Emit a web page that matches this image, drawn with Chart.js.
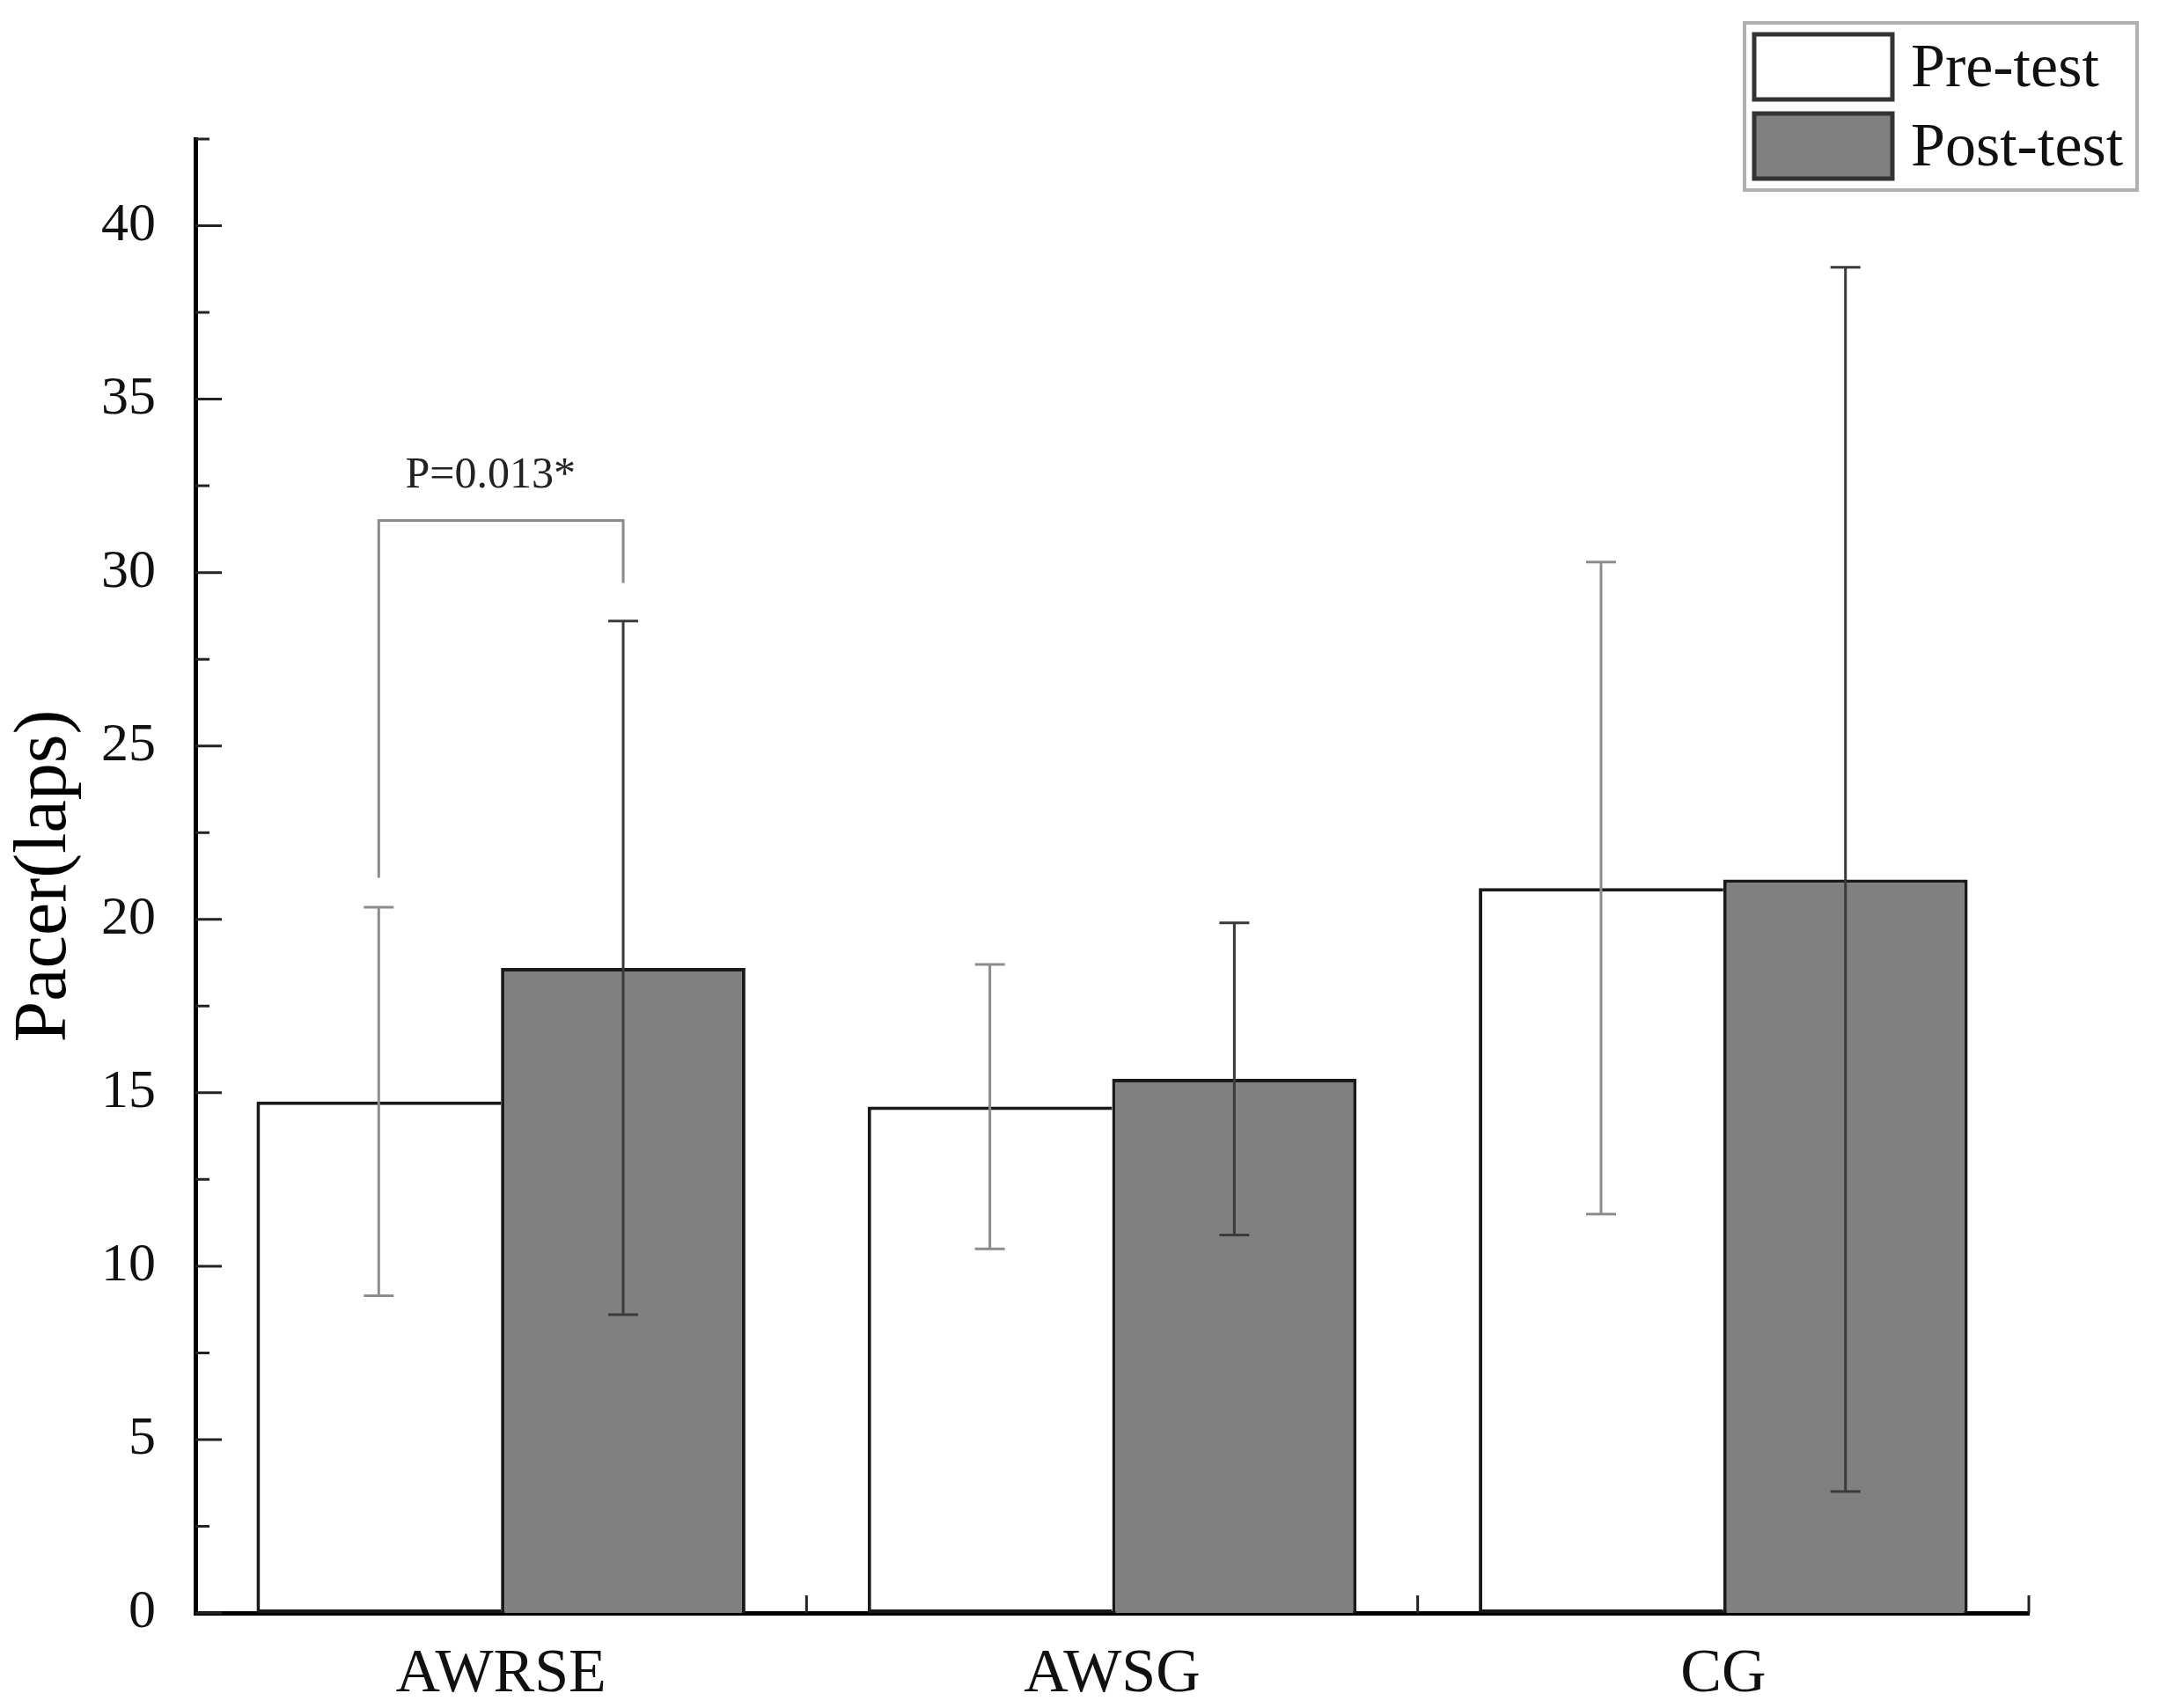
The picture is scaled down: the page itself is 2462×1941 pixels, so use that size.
<!DOCTYPE html>
<html>
<head>
<meta charset="utf-8">
<script src="https://cdn.jsdelivr.net/npm/chart.js@4.4.1/dist/chart.umd.min.js"></script>
<style>
  body { margin: 0; background: #fff; }
  canvas { display: block; }
</style>
</head>
<body>
<canvas id="pacerChart" width="2462" height="1941" style="width:2462px;height:1941px"></canvas>
<script>
// Chart data
const groups = ["AWRSE", "AWSG", "CG"];
const preMean = [14.75, 14.6, 20.9];
const preSd = [5.6, 4.1, 9.4];
const postMean = [18.6, 15.4, 21.15];
const postSd = [10.0, 4.5, 17.65];
const yTicks = [0, 5, 10, 15, 20, 25, 30, 35, 40];
const yMax = 42.5;

// significance bracket between AWRSE pre and post
const bracketTop = 31.5;
const bracketLeftEnd = 21.2;
const bracketRightEnd = 29.7;
const bracketText = "P=0.013*";

const serif = "'Liberation Serif', 'Times New Roman', serif";

// Inward tick marks on both axes
const inwardTicks = {
  id: "inwardTicks",
  afterDraw(chart) {
    const ctx = chart.ctx;
    const x = chart.scales.x;
    const y = chart.scales.y;
    const area = chart.chartArea;
    ctx.save();
    ctx.strokeStyle = "#222";
    ctx.lineWidth = 3;
    ctx.beginPath();
    yTicks.forEach(function (v) {
      const py = y.getPixelForValue(v);
      ctx.moveTo(area.left, py);
      ctx.lineTo(area.left + 30, py);
      const pm = y.getPixelForValue(v + 2.5);
      ctx.moveTo(area.left, pm);
      ctx.lineTo(area.left + 16, pm);
    });
    // category boundaries
    groups.forEach(function (g, i) {
      const px = (x.getPixelForValue(i) + x.getPixelForValue(i + 1)) / 2;
      ctx.moveTo(px, area.bottom);
      ctx.lineTo(px, area.bottom - 20);
    });
    ctx.stroke();
    ctx.restore();
  }
};

// Error bars with caps
const errorBars = {
  id: "errorBars",
  afterDatasetsDraw(chart) {
    const ctx = chart.ctx;
    const y = chart.scales.y;
    chart.data.datasets.forEach(function (ds, di) {
      const meta = chart.getDatasetMeta(di);
      meta.data.forEach(function (bar, i) {
        const top = y.getPixelForValue(ds.data[i] + ds.sd[i]);
        const bot = y.getPixelForValue(ds.data[i] - ds.sd[i]);
        ctx.save();
        ctx.strokeStyle = ds.errorColor;
        ctx.lineWidth = 3;
        ctx.beginPath();
        ctx.moveTo(bar.x, top);
        ctx.lineTo(bar.x, bot);
        ctx.moveTo(bar.x - 17, top);
        ctx.lineTo(bar.x + 17, top);
        ctx.moveTo(bar.x - 17, bot);
        ctx.lineTo(bar.x + 17, bot);
        ctx.stroke();
        ctx.restore();
      });
    });

    // significance bracket
    const left = chart.getDatasetMeta(0).data[0].x;
    const right = chart.getDatasetMeta(1).data[0].x;
    const pTop = y.getPixelForValue(bracketTop);
    ctx.save();
    ctx.strokeStyle = "#8a8a8a";
    ctx.lineWidth = 3;
    ctx.beginPath();
    ctx.moveTo(left, y.getPixelForValue(bracketLeftEnd));
    ctx.lineTo(left, pTop);
    ctx.lineTo(right, pTop);
    ctx.lineTo(right, y.getPixelForValue(bracketRightEnd));
    ctx.stroke();
    ctx.fillStyle = "#222";
    ctx.font = "50px " + serif;
    ctx.textAlign = "center";
    ctx.textBaseline = "alphabetic";
    ctx.fillText(bracketText, (left + right) / 2 - 12, pTop - 38);
    ctx.restore();
  }
};

// Boxed legend in the top right corner
const boxLegend = {
  id: "boxLegend",
  afterDraw(chart) {
    const ctx = chart.ctx;
    ctx.save();
    ctx.strokeStyle = "#b0b0b0";
    ctx.lineWidth = 4;
    ctx.strokeRect(1982, 26, 446, 190);
    chart.data.datasets.forEach(function (ds, i) {
      const top = 39 + i * 90;
      ctx.fillStyle = ds.backgroundColor;
      ctx.fillRect(1993, top, 157, 74);
      ctx.strokeStyle = "#333";
      ctx.lineWidth = 5;
      ctx.strokeRect(1993, top, 157, 74);
      ctx.fillStyle = "#111";
      ctx.font = "70px " + serif;
      ctx.textBaseline = "alphabetic";
      ctx.fillText(ds.label, 2171, top + 59);
    });
    ctx.restore();
  }
};

const ctx = document.getElementById("pacerChart").getContext("2d");

new Chart(ctx, {
  type: "bar",
  data: {
    labels: groups,
    datasets: [
      {
        label: "Pre-test",
        data: preMean,
        sd: preSd,
        errorColor: "#8c8c8c",
        backgroundColor: "#ffffff",
        borderColor: "#1a1a1a",
        borderWidth: 4,
        borderSkipped: "right",
        categoryPercentage: 0.8,
        barPercentage: 1.0
      },
      {
        label: "Post-test",
        data: postMean,
        sd: postSd,
        errorColor: "#3a3a3a",
        backgroundColor: "#808080",
        borderColor: "#1a1a1a",
        borderWidth: 4,
        categoryPercentage: 0.8,
        barPercentage: 1.0
      }
    ]
  },
  options: {
    responsive: false,
    devicePixelRatio: 1,
    animation: false,
    layout: { padding: { top: 158, right: 157, left: 0, bottom: 0 } },
    plugins: {
      legend: { display: false },
      tooltip: { enabled: false }
    },
    scales: {
      x: {
        grid: { display: false, drawTicks: false },
        border: { display: true, color: "#000", width: 5 },
        ticks: {
          color: "#111",
          padding: 29,
          font: { family: serif, size: 70 }
        },
        afterFit: function (scale) { scale.height = 108; }
      },
      y: {
        min: 0,
        max: yMax,
        grid: { display: false, drawTicks: false },
        border: { display: true, color: "#000", width: 5 },
        afterBuildTicks: function (scale) {
          scale.ticks = yTicks.map(function (v) { return { value: v }; });
        },
        ticks: {
          color: "#111",
          padding: 45,
          font: { family: serif, size: 62 }
        },
        title: {
          display: true,
          text: "Pacer(laps)",
          color: "#000",
          padding: { top: 2, bottom: 0 },
          font: { family: serif, size: 84 }
        },
        afterFit: function (scale) { scale.width = 222; }
      }
    }
  },
  plugins: [errorBars, inwardTicks, boxLegend]
});
</script>
</body>
</html>
